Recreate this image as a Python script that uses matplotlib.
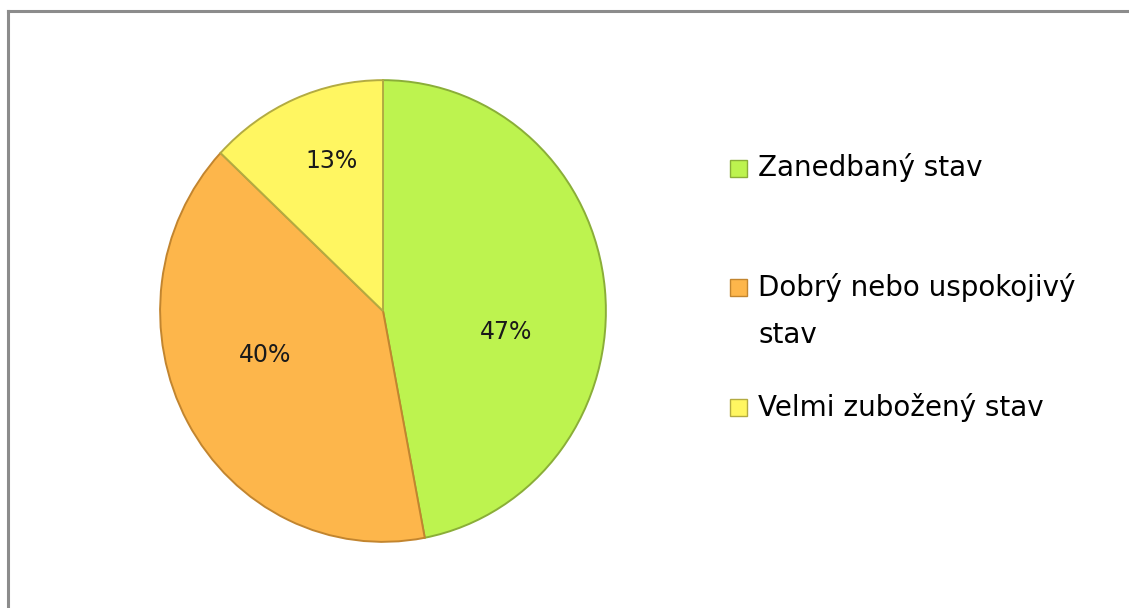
import matplotlib
matplotlib.use("Agg")
import matplotlib.pyplot as plt
from matplotlib.patches import Rectangle
from matplotlib.lines import Line2D

labels = ["Zanedbaný stav", "Dobrý nebo uspokojivý\nstav", "Velmi zubožený stav"]
shares = [47, 40, 13]

colors = ["#bdf34f", "#fdb64b", "#fff661"]
edges = ["#8aae38", "#c2852f", "#b3ab42"]

W, H = 1129, 608
plt.rcParams["font.family"] = ["DejaVu Sans"]

fig = plt.figure(figsize=(W / 100, H / 100), dpi=100)

# frame like the exported chart area
fig.add_artist(Line2D([8 / W, 8 / W], [0, 1 - 11 / H], transform=fig.transFigure,
                      color="#8c8c8c", lw=2.2))
fig.add_artist(Line2D([8 / W, 1], [1 - 11 / H, 1 - 11 / H], transform=fig.transFigure,
                      color="#8c8c8c", lw=2.2))

cx, cy, rx, ry = 383, 311, 224, 232
ax = fig.add_axes([(cx - rx) / W, (H - cy - ry) / H, 2 * rx / W, 2 * ry / H])
wedges, texts, autotexts = ax.pie(
    shares, colors=colors, startangle=90, counterclock=False,
    autopct="%d%%", pctdistance=0.6,
    wedgeprops=dict(linewidth=1.4),
    textprops=dict(fontsize=17, color="#1a1a1a"))
for w, ec in zip(wedges, edges):
    w.set_edgecolor(ec)
ax.set_xlim(-1.005, 1.005)
ax.set_ylim(-1.005, 1.005)
ax.set_aspect("auto")

label_pos = [(0.55, -0.09), (-0.527, -0.19), (-0.232, 0.651)]
for t, p in zip(autotexts, label_pos):
    t.set_position(p)
    t.set_ha("center")
    t.set_va("center")

# legend, drawn by hand to match the spacing of the original
rows = [168, 287, 407]
s = 17
for lab, col, ec, y in zip(labels, colors, edges, rows):
    fig.add_artist(Rectangle(((738 - s / 2) / W, (H - y - s / 2) / H), s / W, s / H,
                             transform=fig.transFigure, facecolor=col,
                             edgecolor=ec, linewidth=1))
    for i, line in enumerate(lab.split("\n")):
        fig.text(758 / W, (H - y - 48 * i) / H, line, fontsize=20, color="#000000",
                 ha="left", va="center")

fig.savefig("out.png", dpi=100)
